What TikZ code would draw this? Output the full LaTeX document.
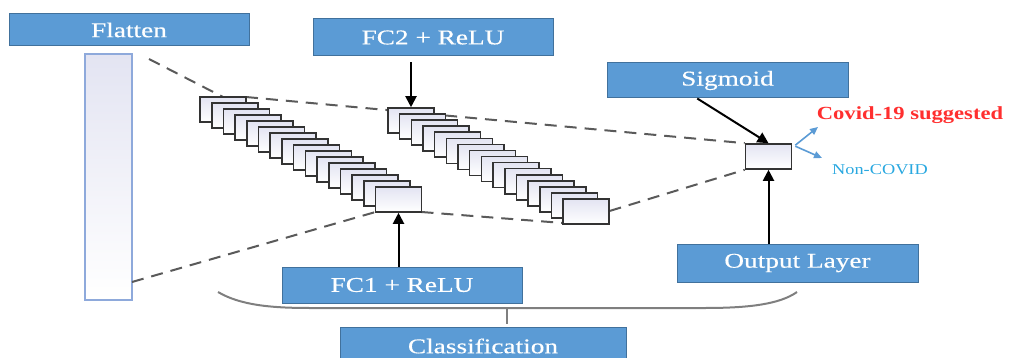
\documentclass[tikz,border=0pt]{standalone}
\usepackage{fontspec}
\usetikzlibrary{arrows.meta,calc}
\newfontfamily\labfont[FakeStretch=1.3,FakeBold=0.4]{Liberation Serif}
\newfontfamily\covfont[FakeStretch=1.22]{Liberation Serif}
\definecolor{bluefill}{HTML}{5B9BD5}
\definecolor{blueedge}{HTML}{41719C}
\definecolor{dashgray}{HTML}{5A5A5A}
\definecolor{bracegray}{HTML}{7F7F7F}
\definecolor{barblue}{HTML}{8EA9DB}
\definecolor{covred}{HTML}{FF2F2F}
\definecolor{noncyan}{HTML}{29A8E0}
\definecolor{arrblue}{HTML}{5B9BD5}
\definecolor{lav}{HTML}{E3E4F2}
\tikzset{
  labelbox/.style={draw=blueedge, line width=1pt, fill=bluefill, text=white,
    font=\labfont\fontsize{21pt}{23pt}\selectfont, inner sep=0pt, anchor=center},
  unitbox/.style={draw=black!80, line width=1.6pt, top color=lav, bottom color=white,
    minimum width=46pt, minimum height=25pt, inner sep=0pt},
  dashline/.style={draw=dashgray, line width=2pt, dash pattern=on 12pt off 8pt},
  blackarrow/.style={draw=black, line width=2pt, -{Triangle[length=11pt,width=11pt]}},
  bluearrow/.style={draw=arrblue, line width=1.6pt, -{Triangle[length=8pt,width=7pt]}},
  bracepath/.style={draw=bracegray, line width=2pt}
}
\begin{document}
\begin{tikzpicture}[x=1pt,y=-1pt]
\useasboundingbox (0,0) rectangle (1016,358);

% label boxes
\node[labelbox, minimum width=240pt, minimum height=32pt] (flat) at (129,30) {Flatten};
\node[labelbox, minimum width=240pt, minimum height=37pt] (fc2) at (433,37.5) {FC2 + ReLU};
\node[labelbox, minimum width=241pt, minimum height=35pt] (sig) at (727.5,80.5) {Sigmoid};
\node[labelbox, minimum width=240pt, minimum height=36pt] (fc1) at (402,285) {FC1 + ReLU};
\node[labelbox, minimum width=241pt, minimum height=38pt] (outl) at (797.5,263) {Output Layer};
\node[labelbox, minimum width=286pt, minimum height=38pt] (cls) at (483,346) {Classification};

% flatten bar
\node[draw=barblue, line width=1.4pt, top color=lav, bottom color=white,
  minimum width=47pt, minimum height=246pt, inner sep=0pt] (bar) at (108.5,177) {};

% output unit
\node[unitbox] (out) at (768.5,156.5) {};

% helper coordinates for free ends
\coordinate (d1s) at (149,59);
\coordinate (d3s) at (132,282);
\coordinate (a0n) at (223,97);
\coordinate (a0ne) at (246,97);
\coordinate (a15sw) at (375.5,212);
\coordinate (a15se) at (421.5,212);
\coordinate (b15sw) at (563,223);
\coordinate (b15e) at (609.5,211);

% dashed lines behind stacks
\draw[dashline] (d1s) -- (a0n);
\draw[dashline] (a0ne) -- (out.north west);
\draw[dashline] (d3s) -- (a15sw);
\draw[dashline] (a15se) -- (b15sw);
\draw[dashline] (b15e) -- (out.south west);

% stack 1 (FC1)
\foreach \i in {0,...,15} {
  \node[unitbox] (a\i) at ({223+\i*11.7},{109.5+\i*6.0}) {};
}
% stack 2 (FC2)
\foreach \i in {0,...,15} {
  \node[unitbox] (b\i) at ({411+\i*11.67},{120.5+\i*6.07}) {};
}

% black arrows
\draw[blackarrow] ($(b0.north |- fc2.south)+(0,6)$) -- (b0.north);
\draw[blackarrow] (a15.south |- fc1.north) -- (a15.south);
\draw[blackarrow] (out.south |- outl.north) -- (out.south);
\draw[blackarrow] ($(sig.south west)!0.375!(sig.south east)$) -- (out.north);

% outputs
\coordinate (covend) at (818,127);
\coordinate (nonend) at (822,158);
\draw[bluearrow] ($(out.north east)+(3,2)$) -- (covend);
\draw[bluearrow] ($(out.north east)+(3,3)$) -- (nonend);
\node[text=covred, font=\covfont\bfseries\fontsize{18.5pt}{20pt}\selectfont, inner sep=0pt] (cov) at (910,115) {Covid-19 suggested};
\node[text=noncyan, font=\covfont\fontsize{15pt}{17pt}\selectfont, inner sep=0pt] (non) at (880,170) {Non-COVID};

% brace
\draw[bracepath] (218,292) .. controls (240,305) and (270,308) .. (310,308) -- (705,308) .. controls (750,308) and (780,304) .. (797,292);
\coordinate (bt) at (507,308);
\draw[bracepath, shorten >=3pt] (bt) -- (bt |- cls.north);
\end{tikzpicture}
\end{document}
